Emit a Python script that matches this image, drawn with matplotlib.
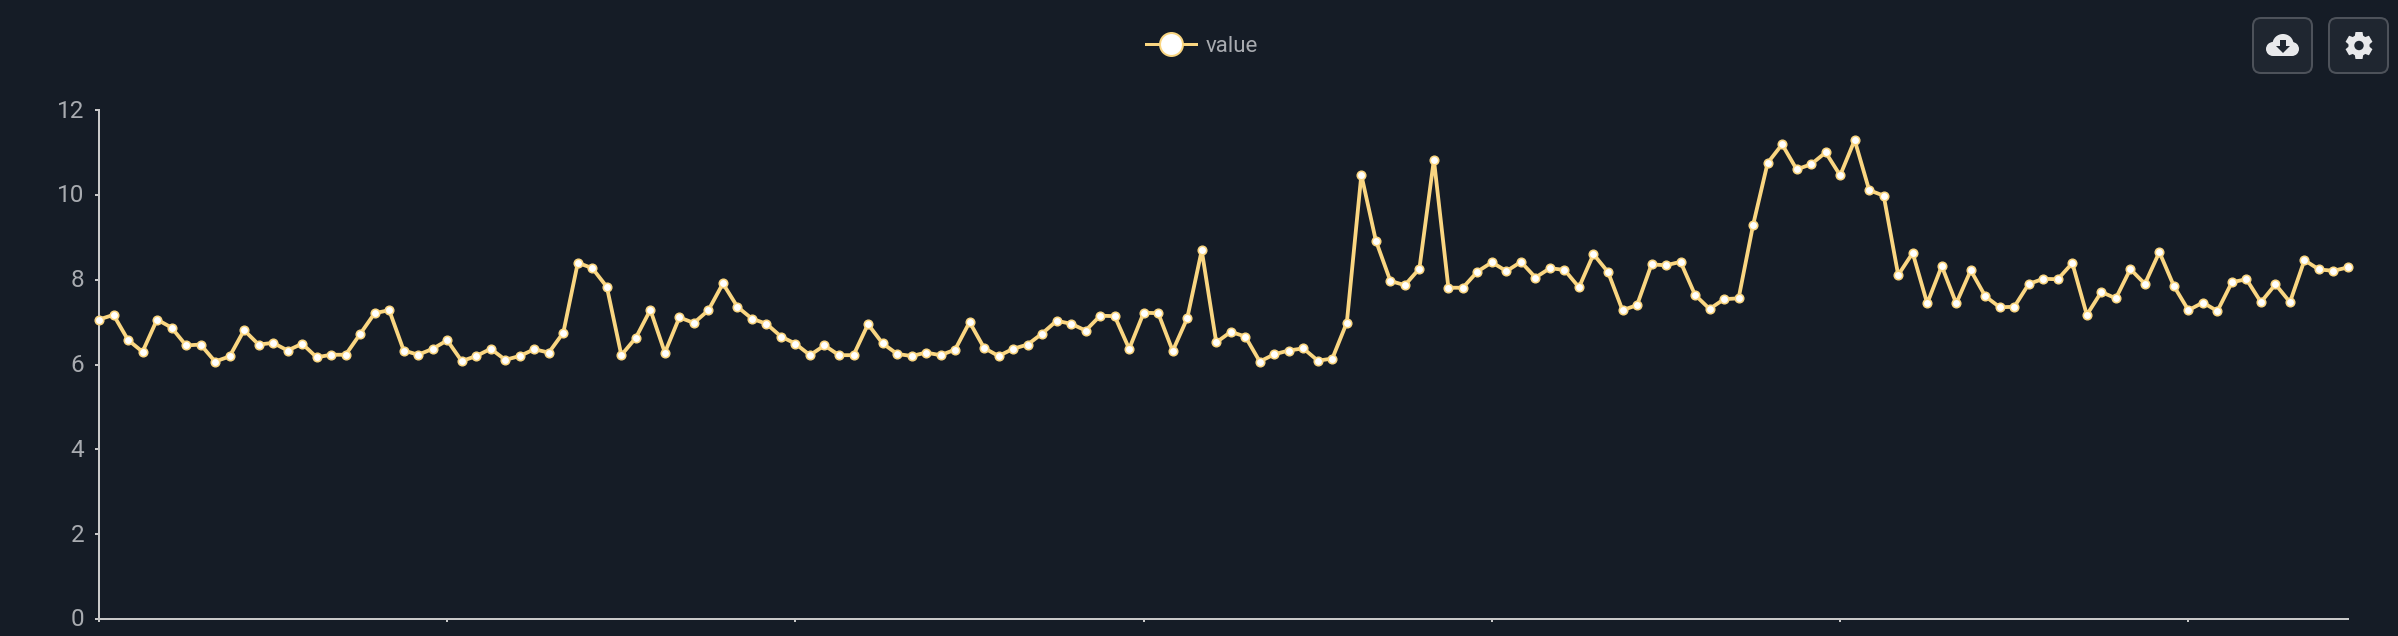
import matplotlib
matplotlib.use("Agg")
import matplotlib.pyplot as plt
import numpy as np
from matplotlib.patches import FancyBboxPatch, Circle, Ellipse, Polygon, Rectangle
from matplotlib.transforms import ScaledTranslation

values = [
    7.06, 7.17, 6.58, 6.30, 7.06, 6.87, 6.45, 6.47, 6.07, 6.19, 6.81, 6.47,
    6.51, 6.33, 6.49, 6.17, 6.23, 6.23, 6.72, 7.21, 7.28, 6.33, 6.23, 6.37,
    6.57, 6.08, 6.20, 6.37, 6.11, 6.20, 6.36, 6.28, 6.75, 8.40, 8.27, 7.83,
    6.22, 6.63, 7.29, 6.28, 7.11, 6.98, 7.28, 7.91, 7.36, 7.08, 6.96, 6.66,
    6.49, 6.22, 6.45, 6.22, 6.22, 6.95, 6.50, 6.25, 6.20, 6.28, 6.22, 6.35,
    7.00, 6.39, 6.20, 6.37, 6.47, 6.73, 7.03, 6.96, 6.80, 7.15, 7.14, 6.37,
    7.22, 7.21, 6.32, 7.09, 8.69, 6.52, 6.77, 6.66, 6.07, 6.24, 6.33, 6.38,
    6.09, 6.14, 6.99, 10.47, 8.92, 7.97, 7.87, 8.26, 10.83, 7.81, 7.81, 8.19,
    8.41, 8.20, 8.42, 8.05, 8.27, 8.23, 7.82, 8.60, 8.18, 7.28, 7.40, 8.36,
    8.34, 8.42, 7.64, 7.31, 7.54, 7.56, 9.29, 10.75, 11.19, 10.60, 10.72, 11.00,
    10.46, 11.29, 10.11, 9.98, 8.11, 8.63, 7.44, 8.32, 7.44, 8.22, 7.61, 7.35,
    7.36, 7.90, 8.02, 8.01, 8.39, 7.17, 7.71, 7.56, 8.25, 7.90, 8.65, 7.85,
    7.28, 7.46, 7.26, 7.94, 8.01, 7.47, 7.89, 7.47, 8.46, 8.24, 8.21, 8.29,
]
y_ticks = [0, 2, 4, 6, 8, 10, 12]
x_ticks = [0, 24, 48, 72, 96, 120, 144]
series_name = "value"

W, H = 2398, 636
BG = "#151c26"
LINE = "#fad681"
AXIS = "#c9c9c9"
TEXT = "#a8abb0"
px = 72 / 100  # points per pixel at dpi 100

plt.rcParams["font.family"] = ["Roboto", "DejaVu Sans"]

fig = plt.figure(figsize=(W / 100, H / 100), dpi=100, facecolor=BG)
ax = fig.add_axes([99 / W, (H - 619) / H, (2348 - 99) / W, (619 - 110) / H], facecolor=BG)

ax.plot(range(len(values)), values, color=LINE, lw=3.8 * px, marker="o",
        ms=8.5 * px, mfc="white", mec=LINE, mew=1.6 * px, clip_on=False,
        label=series_name, zorder=3)
ax.set_xlim(0, len(values) - 1)
ax.set_ylim(0, 12)

ax.set_yticks(y_ticks)
ax.set_xticks(x_ticks)
ax.set_xticklabels([])
ax.tick_params(axis="y", length=4 * px, width=2 * px, color=AXIS, labelcolor=TEXT,
               labelsize=17.5, pad=11 * px)
ax.tick_params(axis="x", length=3 * px, width=2 * px, color=AXIS)
for lab in ax.get_yticklabels():
    lab.set_transform(lab.get_transform() + ScaledTranslation(0, 1.5 / 100, fig.dpi_scale_trans))
for side in ["top", "right"]:
    ax.spines[side].set_visible(False)
for side in ["left", "bottom"]:
    ax.spines[side].set_color(AXIS)
    ax.spines[side].set_linewidth(2 * px)

# legend on top, bigger marker than the series
leg = ax.legend(loc="center", bbox_to_anchor=(1202 / W, (H - 46.5) / H),
                bbox_transform=fig.transFigure, frameon=False, fontsize=16,
                labelcolor=TEXT, numpoints=1, handlelength=2.25, handletextpad=0.42,
                borderpad=0, markerscale=2.7)
for h in leg.legend_handles:
    h.set_markeredgewidth(2 * px)
    h.set_linewidth(3 * px)

# toolbar buttons, drawn in pixel coordinates
ui = fig.add_axes([0, 0, 1, 1], facecolor="none")
ui.set_xlim(0, W)
ui.set_ylim(H, 0)
ui.axis("off")

for x0 in [2253, 2329]:
    ui.add_patch(FancyBboxPatch((x0 + 8, 26), 43, 39, boxstyle="round,pad=8,rounding_size=8",
                                fc="#1f2630", ec="#4d525a", lw=2 * px))

ICON = "#e8e9eb"
# cloud with arrow
ui.add_patch(Ellipse((2283, 44), 21, 20, fc=ICON, ec="none"))
ui.add_patch(Ellipse((2273, 49), 14, 14, fc=ICON, ec="none"))
ui.add_patch(Ellipse((2292, 49), 14, 14, fc=ICON, ec="none"))
ui.add_patch(Rectangle((2273, 46), 19, 10, fc=ICON, ec="none"))
ui.add_patch(Rectangle((2280, 40), 6, 7, fc="#1f2630", ec="none"))
ui.add_patch(Polygon([(2276, 46), (2290, 46), (2283, 53)], fc="#1f2630", ec="none"))

# gear
cx, cy = 2359, 45.5
ui.add_patch(Circle((cx, cy), 10.5, fc=ICON, ec="none"))
for a in np.arange(0, 360, 60) + 90:
    r = np.radians(a)
    ux, uy = np.cos(r), np.sin(r)
    nx, ny = -uy, ux
    tooth = [(cx + ux * 8 + nx * 4.5, cy + uy * 8 + ny * 4.5),
             (cx + ux * 13.5 + nx * 3.5, cy + uy * 13.5 + ny * 3.5),
             (cx + ux * 13.5 - nx * 3.5, cy + uy * 13.5 - ny * 3.5),
             (cx + ux * 8 - nx * 4.5, cy + uy * 8 - ny * 4.5)]
    ui.add_patch(Polygon(tooth, fc=ICON, ec="none"))
ui.add_patch(Circle((cx, cy), 4.7, fc="#1f2630", ec="none"))

fig.savefig("out.png", dpi=100, facecolor=BG)
